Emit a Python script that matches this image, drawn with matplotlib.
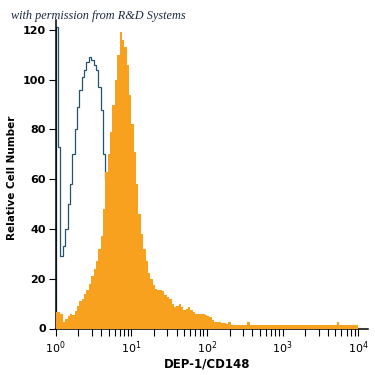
import numpy as np
import matplotlib
matplotlib.use('Agg')
import matplotlib.pyplot as plt
from matplotlib.ticker import LogLocator, NullFormatter

# 128 log channels spanning 10^0 .. 10^4
n_bins = 128
decades = 4

# DEP-1/CD148 stained sample (filled orange)
sample_counts = [
    6.5, 6.5, 6, 2.5, 4, 5, 6, 5.5, 7, 9,
    11, 12, 14, 15.5, 18, 21, 24, 27, 32, 37,
    48, 63, 70, 79, 90, 100, 110, 119, 116, 113,
    106, 94, 82, 71, 58, 46, 38, 32, 27, 22.5,
    20, 17.5, 16, 15.5, 15.5, 15, 13.5, 12.5, 12, 10,
    8.5, 9, 10, 8.5, 7.5, 8, 8.5, 7.5, 6.5, 6,
    6, 6, 6, 5.5, 5, 4.5, 3.5, 2.5, 2.5, 2.5,
    2.2, 2.2, 2, 2.5, 1.5, 1.5, 1.5, 1.5, 1.5, 1.5,
    1.5, 2.5, 1.5, 1.5, 1.5, 1.5, 1.5, 1.5, 1.5, 1.5,
    1.5, 1.5, 1.5, 1.5, 1.5, 1.5, 1.5, 1.5, 1.5, 1.5,
    1.5, 1.5, 1.5, 1.5, 1.5, 1.5, 1.5, 1.5, 1.5, 1.5,
    1.5, 1.5, 1.5, 1.5, 1.5, 1.5, 1.5, 1.5, 1.5, 2.5,
    1.5, 1.5, 1.5, 1.5, 1.5, 1.5, 1.5, 1.5,
]

# isotype control (open outline)
control_counts = [
    121, 73, 29, 33, 40, 50, 58, 70, 80, 89,
    96, 101, 104, 107, 109, 108, 106, 104, 97, 88,
    70, 60, 48, 36, 26, 18, 11, 6, 3, 2,
    1, 0.5, 0, 0, 0, 0, 0, 0, 0, 0,
    0, 0, 0, 0, 0, 0, 0, 0, 0, 0,
    0, 0, 0, 0, 0, 0, 0, 0, 0, 0,
    0, 0, 0, 0, 0, 0, 0, 0, 0, 0,
    0, 0, 0, 0, 0, 0, 0, 0, 0, 0,
    0, 0, 0, 0, 0, 0, 0, 0, 0, 0,
    0, 0, 0, 0, 0, 0, 0, 0, 0, 0,
    0, 0, 0, 0, 0, 0, 0, 0, 0, 0,
    0, 0, 0, 0, 0, 0, 0, 0, 0, 0,
    0, 0, 0, 0, 0, 0, 0, 0,
]

y_ticks = [0, 20, 40, 60, 80, 100, 120]

edges = 10 ** np.linspace(0, decades, n_bins + 1)

plt.rcParams['mathtext.default'] = 'regular'

fig = plt.figure(figsize=(3.75, 3.75), dpi=100)
ax = fig.add_axes([0.1485, 0.124, 0.833, 0.8227])

ax.stairs(control_counts, edges, fill=False, color='#24526e', linewidth=0.9, zorder=2)
ax.stairs(sample_counts, edges, fill=True, color='#f8a11f', linewidth=0, zorder=3)

ax.set_xscale('log')
ax.set_xlim(1, 10 ** 4.13)
ax.set_ylim(0, 124)
ax.set_yticks(y_ticks)

ax.xaxis.set_major_locator(LogLocator(base=10, numticks=10))
ax.xaxis.set_minor_locator(LogLocator(base=10, subs=np.arange(2, 10), numticks=20))
ax.xaxis.set_minor_formatter(NullFormatter())

for s in ['top', 'right']:
    ax.spines[s].set_visible(False)
for s in ['left', 'bottom']:
    ax.spines[s].set_linewidth(1.1)

ax.tick_params(axis='x', which='both', direction='out', length=5, width=0.8, pad=3,
               labelsize=8)
ax.tick_params(axis='y', direction='out', length=5, width=0.8, pad=2, labelsize=8)
for lab in ax.get_yticklabels():
    lab.set_fontweight('bold')

ax.set_xlabel('DEP-1/CD148', fontsize=8.5, fontweight='bold')
ax.xaxis.set_label_coords(0.484, -0.095)
ax.set_ylabel('Relative Cell Number', fontsize=7.5, fontweight='bold')
ax.yaxis.set_label_coords(-0.125, 0.49)

fig.text(0.03, 0.958, 'with permission from R&D Systems', fontsize=8.8,
         fontstyle='italic', family='Liberation Serif', va='center', ha='left',
         color='#1a2a44')

fig.savefig('out.png', dpi=100, facecolor='w')
